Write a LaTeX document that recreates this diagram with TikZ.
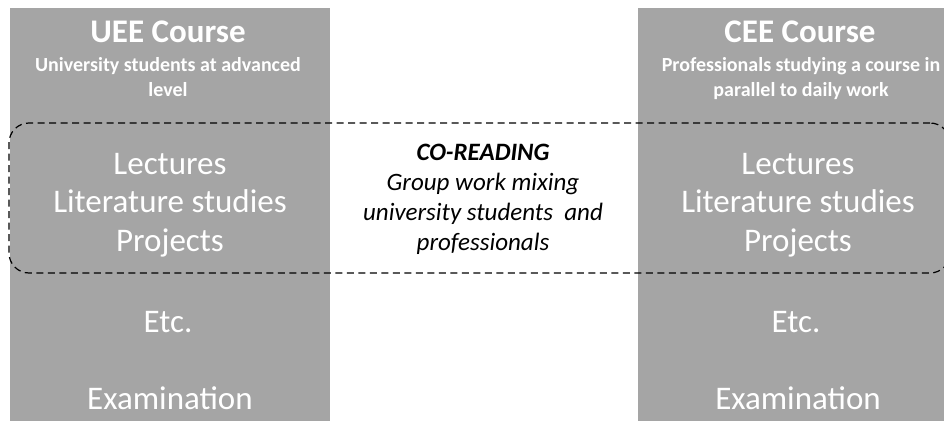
\documentclass[tikz,border=0pt]{standalone}
\usepackage{fontspec}
\setmainfont{Carlito}
\usepackage{tikz}
\usetikzlibrary{positioning}
\definecolor{CourseGray}{RGB}{165,165,165}

\begin{document}
\begin{tikzpicture}[
  x=1pt, y=1pt,
  course/.style={fill=CourseGray, minimum width=320pt, minimum height=413pt,
                 inner sep=0pt},
  heading/.style={text=white, anchor=base, inner sep=0pt,
                  font=\fontsize{33}{36}\selectfont\bfseries},
  subhead/.style={text=white, anchor=base, inner sep=0pt, align=center,
                  font=\fontsize{20}{25}\selectfont\bfseries},
  item/.style={text=white, anchor=base, inner sep=0pt, align=center,
               font=\fontsize{33}{38.5}\selectfont},
  coread/.style={draw=black, dashed, dash pattern=on 7pt off 4.5pt,
                 line width=1.2pt, rounded corners=20pt,
                 minimum width=941pt, minimum height=150pt},
  mixtext/.style={anchor=base, inner sep=0pt, align=center,
                  font=\fontsize{25}{30}\selectfont\itshape}
]
  \useasboundingbox (0,0) rectangle (944,421);

  % the two courses
  \node[course] (uee) at (170,206.5) {};
  \node[course] (cee) at (798,206.5) {};

  \node[heading] (ueeT) at (168,378) {UEE Course};
  \node[subhead] (ueeS) at (168,324) {University students at advanced\\level};
  \node[heading] (ceeT) at (800,378) {CEE Course};
  \node[subhead] (ceeS) at (801,324) {Professionals studying a course in\\parallel to daily work};

  \node[item] (ueeL) at (170,170) {Lectures\\Literature studies\\Projects};
  \node[item] (ceeL) at (798,170) {Lectures\\Literature studies\\Projects};
  \node[item] (ueeE) at (168,89) {Etc.};
  \node[item] (ceeE) at (796,89) {Etc.};
  \node[item] (ueeX) at (170,12) {Examination};
  \node[item] (ceeX) at (798,12) {Examination};

  % shared group work
  \node[coread] (co) at (479.5,223) {};
  \node[mixtext] (coT) at (483,171) {\textbf{CO-READING}\\Group work mixing\\university students\ \ and\\professionals};
\end{tikzpicture}
\end{document}
